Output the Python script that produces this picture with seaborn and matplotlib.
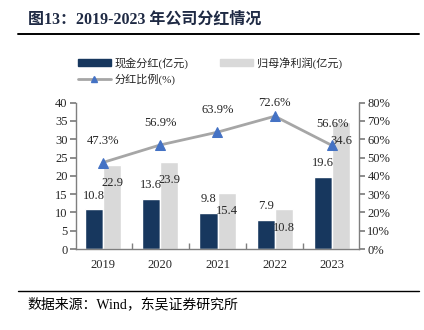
import matplotlib
matplotlib.use("Agg")
import matplotlib.pyplot as plt
import seaborn as sns
import pandas as pd
import numpy as np
from matplotlib.patches import Patch
from matplotlib.lines import Line2D
from matplotlib.ticker import MultipleLocator, FuncFormatter, FixedLocator

sns.set_theme(style="white")
FONTS = ['Liberation Serif', 'Noto Sans CJK SC', 'DejaVu Sans']
plt.rcParams['font.family'] = FONTS
plt.rcParams['axes.unicode_minus'] = False

years = ['2019', '2020', '2021', '2022', '2023']
cash_dividend = [10.8, 13.6, 9.8, 7.9, 19.6]
net_profit = [22.9, 23.9, 15.4, 10.8, 34.6]
payout_ratio = [47.3, 56.9, 63.9, 72.6, 56.6]
series_names = ['现金分红(亿元)', '归母净利润(亿元)']
line_name = '分红比例(%)'

NAVY = '#17375E'
LIGHT = '#D9D9D9'
LINE = '#A6A6A6'
MARK = '#4472C4'
TXT = '#262626'
SPINE = '#7F7F7F'

df = pd.DataFrame({
    'year': years * 2,
    'value': cash_dividend + net_profit,
    'series': [series_names[0]] * len(years) + [series_names[1]] * len(years),
})

W, H = 424, 330
fig = plt.figure(figsize=(W / 100, H / 100), dpi=100)
ax = fig.add_axes([76 / W, 1 - 249 / H, (359 - 76) / W, (249 - 102.7) / H])

sns.barplot(data=df, x='year', y='value', hue='series', order=years,
            hue_order=series_names, palette=[NAVY, LIGHT], width=0.63,
            saturation=1, ax=ax, legend=False, errorbar=None)
ax.set_xlim(-0.47, len(years) - 0.53)
ax.set_ylim(0, 40)
ax.yaxis.set_major_locator(MultipleLocator(5))
ax.set_xlabel('')
ax.set_ylabel('')

# bar labels
conts = ax.containers
for bar, v in zip(conts[0], cash_dividend):
    ax.annotate(f'{v:.1f}', (bar.get_x() + bar.get_width() / 2, bar.get_height()),
                xytext=(0, 10), textcoords='offset points', ha='center', va='center',
                fontsize=9, color=TXT)
for bar, v in zip(conts[1], net_profit):
    ax.annotate(f'{v:.1f}', (bar.get_x() + bar.get_width() / 2, bar.get_height()),
                xytext=(0, -13), textcoords='offset points', ha='center', va='center',
                fontsize=9, color=TXT)

ax2 = ax.twinx()
xs = np.arange(len(years))
sns.lineplot(x=xs, y=payout_ratio, ax=ax2, color=LINE, lw=2, marker='^',
             markersize=7.5, markerfacecolor=MARK, markeredgecolor=MARK, legend=False)
ax2.set_ylim(0, 80)
ax2.yaxis.set_major_locator(MultipleLocator(10))
ax2.yaxis.set_major_formatter(FuncFormatter(lambda v, p: f'{v:.0f}%'))
for x, v in zip(xs, payout_ratio):
    ax2.text(x, min(v + 12, 79.7), f'{v:.1f}%', ha='center', va='center',
             fontsize=9, color=TXT)

# spines & ticks
for a in (ax, ax2):
    a.spines['top'].set_visible(False)
    for s in ('left', 'right', 'bottom'):
        a.spines[s].set_color(SPINE)
        a.spines[s].set_linewidth(1)
ax.spines['right'].set_visible(False)
ax2.spines['left'].set_visible(False)
ax2.spines['bottom'].set_visible(False)

ax.tick_params(axis='y', which='major', direction='out', length=4, color=SPINE,
               labelsize=9, labelcolor=TXT, pad=2, left=True)
ax2.tick_params(axis='y', which='major', direction='out', length=4, color=SPINE,
                labelsize=9, labelcolor=TXT, pad=2, right=True)
ax.tick_params(axis='x', which='major', length=0, labelsize=9, labelcolor=TXT, pad=7)
ax.xaxis.set_minor_locator(FixedLocator([0.5, 1.5, 2.5, 3.5]))
ax.tick_params(axis='x', which='minor', direction='in', length=4, color=SPINE, bottom=True)
ax2.set_xlabel('')

# legend
handles = [
    Patch(facecolor=NAVY, edgecolor=NAVY, label=series_names[0]),
    Line2D([0], [0], color=LINE, lw=2, marker='^', markersize=5,
           markerfacecolor=MARK, markeredgecolor=MARK, label=line_name),
    Patch(facecolor=LIGHT, edgecolor=LIGHT, label=series_names[1]),
]
fig.legend(handles=handles, ncol=2, loc='upper left',
           bbox_to_anchor=(70 / W, 1 - 49 / H), frameon=False,
           fontsize=8, handlelength=3.0, handleheight=0.6, handletextpad=0.3,
           columnspacing=2.85, labelspacing=0.45, borderpad=0.2, labelcolor=TXT)

# title and rules
fig.text(28 / W, 1 - 20 / H, '图13：2019-2023 年公司分红情况', fontsize=11.5,
         fontweight='bold', color='#1F2A44', va='center', ha='left')
fig.add_artist(Line2D([18 / W, 419 / W], [1 - 34 / H, 1 - 34 / H], color='black', lw=1.4))
fig.add_artist(Line2D([18 / W, 419 / W], [1 - 290.5 / H, 1 - 290.5 / H], color='black', lw=1))
fig.text(27 / W, 1 - 304 / H, '数据来源：Wind，东吴证券研究所', fontsize=10,
         color='black', va='center', ha='left')

fig.savefig('out.png', dpi=100)
